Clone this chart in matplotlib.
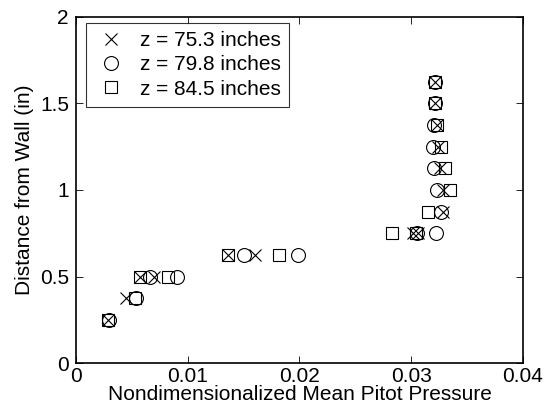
import matplotlib
matplotlib.use("Agg")
import matplotlib.pyplot as plt

plt.rcParams['font.family'] = ['Liberation Sans', 'DejaVu Sans']

# distance from wall (in) and pitot pressure for each station
y_753 = [0.25, 0.375, 0.5, 0.5, 0.625, 0.625, 0.75, 0.75, 0.875, 1.0, 1.125, 1.25, 1.375, 1.5, 1.625]
p_753 = [0.0029, 0.0045, 0.0057, 0.0070, 0.0136, 0.0160, 0.0302, 0.0306, 0.0328, 0.0328, 0.0326, 0.0324, 0.0323, 0.0321, 0.0321]

y_798 = [0.25, 0.375, 0.5, 0.5, 0.625, 0.625, 0.75, 0.75, 0.875, 1.0, 1.125, 1.25, 1.375, 1.5, 1.625]
p_798 = [0.0030, 0.0054, 0.0066, 0.0090, 0.0150, 0.0199, 0.0305, 0.0322, 0.0327, 0.0323, 0.0320, 0.0319, 0.0320, 0.0321, 0.0321]

y_845 = [0.25, 0.375, 0.5, 0.5, 0.625, 0.625, 0.75, 0.75, 0.875, 1.0, 1.125, 1.25, 1.375, 1.5, 1.625]
p_845 = [0.0029, 0.0053, 0.0057, 0.0082, 0.0136, 0.0182, 0.0283, 0.0304, 0.0315, 0.0335, 0.0330, 0.0327, 0.0323, 0.0321, 0.0321]

fig = plt.figure(figsize=(5.5, 4.13), dpi=100)
ax = fig.add_axes([0.138, 0.121, 0.813, 0.838])

ax.plot(p_753, y_753, 'x', color='k', ms=9, mew=0.8, label='z = 75.3 inches')
ax.plot(p_798, y_798, 'o', mfc='none', mec='k', ms=10, mew=0.8, label='z = 79.8 inches')
ax.plot(p_845, y_845, 's', mfc='none', mec='k', ms=9, mew=0.8, label='z = 84.5 inches')

ax.set_xlim(0, 0.04)
ax.set_ylim(0, 2)
ax.set_xticks([0, 0.01, 0.02, 0.03, 0.04])
ax.set_xticklabels(['0', '0.01', '0.02', '0.03', '0.04'])
ax.set_yticks([0, 0.5, 1, 1.5, 2])
ax.set_yticklabels(['0', '0.5', '1', '1.5', '2'])
ax.tick_params(direction='in', top=True, right=True, labelsize=15, length=5, width=0.6)
ax.tick_params(axis='x', pad=3)
ax.tick_params(axis='y', pad=5)
for s in ax.spines.values():
    s.set_linewidth(1.2)

ax.set_xlabel('Nondimensionalized Mean Pitot Pressure', fontsize=15, labelpad=-1)
ax.set_ylabel('Distance from Wall (in)', fontsize=15, labelpad=4)

leg = ax.legend(loc='upper left', bbox_to_anchor=(0.022, 0.983), fontsize=15,
                frameon=True, fancybox=False, borderaxespad=0, handletextpad=0.6,
                borderpad=0.4, labelspacing=0.25, handlelength=1.6)
leg.get_frame().set_edgecolor('k')
leg.get_frame().set_linewidth(0.8)

fig.savefig('out.png', dpi=100)
